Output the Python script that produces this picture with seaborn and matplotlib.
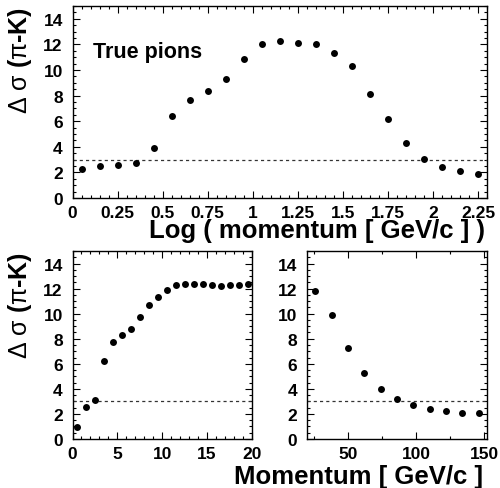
import numpy as np
import pandas as pd
import matplotlib
matplotlib.use("Agg")
import matplotlib.pyplot as plt
from matplotlib.ticker import MultipleLocator, FuncFormatter
import seaborn as sns

# ---------------- data ----------------
log_p = [0.05, 0.15, 0.25, 0.35, 0.45, 0.55, 0.65, 0.75, 0.85, 0.95, 1.05, 1.15,
         1.25, 1.35, 1.45, 1.55, 1.65, 1.75, 1.85, 1.95, 2.05, 2.15, 2.25]
sep_log = [2.27, 2.53, 2.61, 2.74, 3.89, 6.41, 7.69, 8.34, 9.26, 10.89, 12.01, 12.25,
           12.14, 12.04, 11.36, 10.31, 8.13, 6.14, 4.26, 3.05, 2.40, 2.08, 1.90]

p_low = [0.5, 1.5, 2.5, 3.5, 4.5, 5.5, 6.5, 7.5, 8.5, 9.5, 10.5, 11.5, 12.5, 13.5,
         14.5, 15.5, 16.5, 17.5, 18.5, 19.5]
sep_low = [0.99, 2.58, 3.13, 6.21, 7.77, 8.30, 8.80, 9.70, 10.71, 11.34, 11.85, 12.27,
           12.38, 12.38, 12.40, 12.25, 12.17, 12.25, 12.30, 12.38]

p_high = [26, 38, 50, 62, 74, 86, 98, 110, 122, 134, 146]
sep_high = [11.82, 9.89, 7.29, 5.30, 4.01, 3.19, 2.71, 2.42, 2.21, 2.10, 2.10]

threshold = 3
ylabel_txt = r"$\Delta$ $\sigma$ ($\pi$-K)"
xlabel_top = "Log ( momentum [ GeV/c ] )"
xlabel_bot = "Momentum [ GeV/c ]"
annot = "True pions"

# ---------------- style ----------------
sns.set_style("ticks")
plt.rcParams["font.family"] = ["Liberation Sans", "DejaVu Sans"]
plt.rcParams["font.weight"] = "bold"
plt.rcParams["axes.labelweight"] = "bold"
plt.rcParams["text.color"] = "black"
plt.rcParams["axes.labelcolor"] = "black"
plt.rcParams["xtick.color"] = "black"
plt.rcParams["ytick.color"] = "black"
plt.rcParams["mathtext.fontset"] = "custom"
plt.rcParams["mathtext.rm"] = "Liberation Sans:weight=normal"
plt.rcParams["mathtext.it"] = "Liberation Sans:weight=normal"
plt.rcParams["mathtext.bf"] = "Liberation Sans:bold"

W, H = 500, 489
fig = plt.figure(figsize=(W / 100, H / 100), dpi=100)

def frac(l, t, r, b):
    return [l / W, 1 - b / H, (r - l) / W, (b - t) / H]

ax_top = fig.add_axes(frac(72.5, 7, 487, 199))
ax_bl = fig.add_axes(frac(72.5, 252, 252, 440))
ax_br = fig.add_axes(frac(307, 252, 487, 440))

def style(ax, xmaj, xmin):
    ax.set_ylim(0, 15)
    ax.yaxis.set_major_locator(MultipleLocator(2))
    ax.yaxis.set_minor_locator(MultipleLocator(0.5))
    ax.xaxis.set_major_locator(MultipleLocator(xmaj))
    ax.xaxis.set_minor_locator(MultipleLocator(xmin))
    ax.xaxis.set_major_formatter(FuncFormatter(lambda v, p: "%g" % v))
    ax.tick_params(which="both", direction="in", top=True, right=True,
                   colors="black", width=0.8)
    ax.tick_params(which="major", length=5)
    ax.tick_params(which="minor", length=2.5)
    ax.tick_params(axis="y", which="major", pad=7, labelsize=12.5)
    ax.tick_params(axis="x", which="major", pad=5, labelsize=12.5)
    for lab in ax.get_xticklabels() + ax.get_yticklabels():
        lab.set_fontweight("bold")
    for s in ax.spines.values():
        s.set_linewidth(1.0)
        s.set_color("black")
    ax.axhline(threshold, color="#333333", lw=0.9, ls=(0, (2.5, 2.5)), zorder=1)

dot = dict(color="black", s=25, linewidth=0, zorder=3)

df_top = pd.DataFrame({"x": log_p, "y": sep_log})
sns.scatterplot(data=df_top, x="x", y="y", ax=ax_top, **dot)
ax_top.set_xlim(0, 2.3)
style(ax_top, 0.25, 0.05)
ax_top.set_xlabel(xlabel_top, fontsize=18.5, fontweight="bold", loc="right")
ax_top.xaxis.set_label_coords(0.995, -0.106)
ax_top.set_ylabel(ylabel_txt, fontsize=18, fontweight="bold", loc="top")
ax_top.yaxis.set_label_coords(-0.093, 1.0)
ax_top.text(0.05, 0.735, annot, transform=ax_top.transAxes, fontsize=15.5,
            fontweight="bold", ha="left", va="baseline")

df_bl = pd.DataFrame({"x": p_low, "y": sep_low})
sns.scatterplot(data=df_bl, x="x", y="y", ax=ax_bl, **dot)
ax_bl.set_xlim(0, 20)
style(ax_bl, 5, 1)
ax_bl.set_xlabel("")
ax_bl.set_ylabel(ylabel_txt, fontsize=18, fontweight="bold", loc="top")
ax_bl.yaxis.set_label_coords(-0.215, 1.0)

df_br = pd.DataFrame({"x": p_high, "y": sep_high})
sns.scatterplot(data=df_br, x="x", y="y", ax=ax_br, **dot)
ax_br.set_xlim(20, 152)
style(ax_br, 50, 25)
ax_br.set_ylabel("")
ax_br.set_xlabel(xlabel_bot, fontsize=18.5, fontweight="bold", loc="right")
ax_br.xaxis.set_label_coords(0.978, -0.133)

fig.savefig("out.png", dpi=100, facecolor="white")
